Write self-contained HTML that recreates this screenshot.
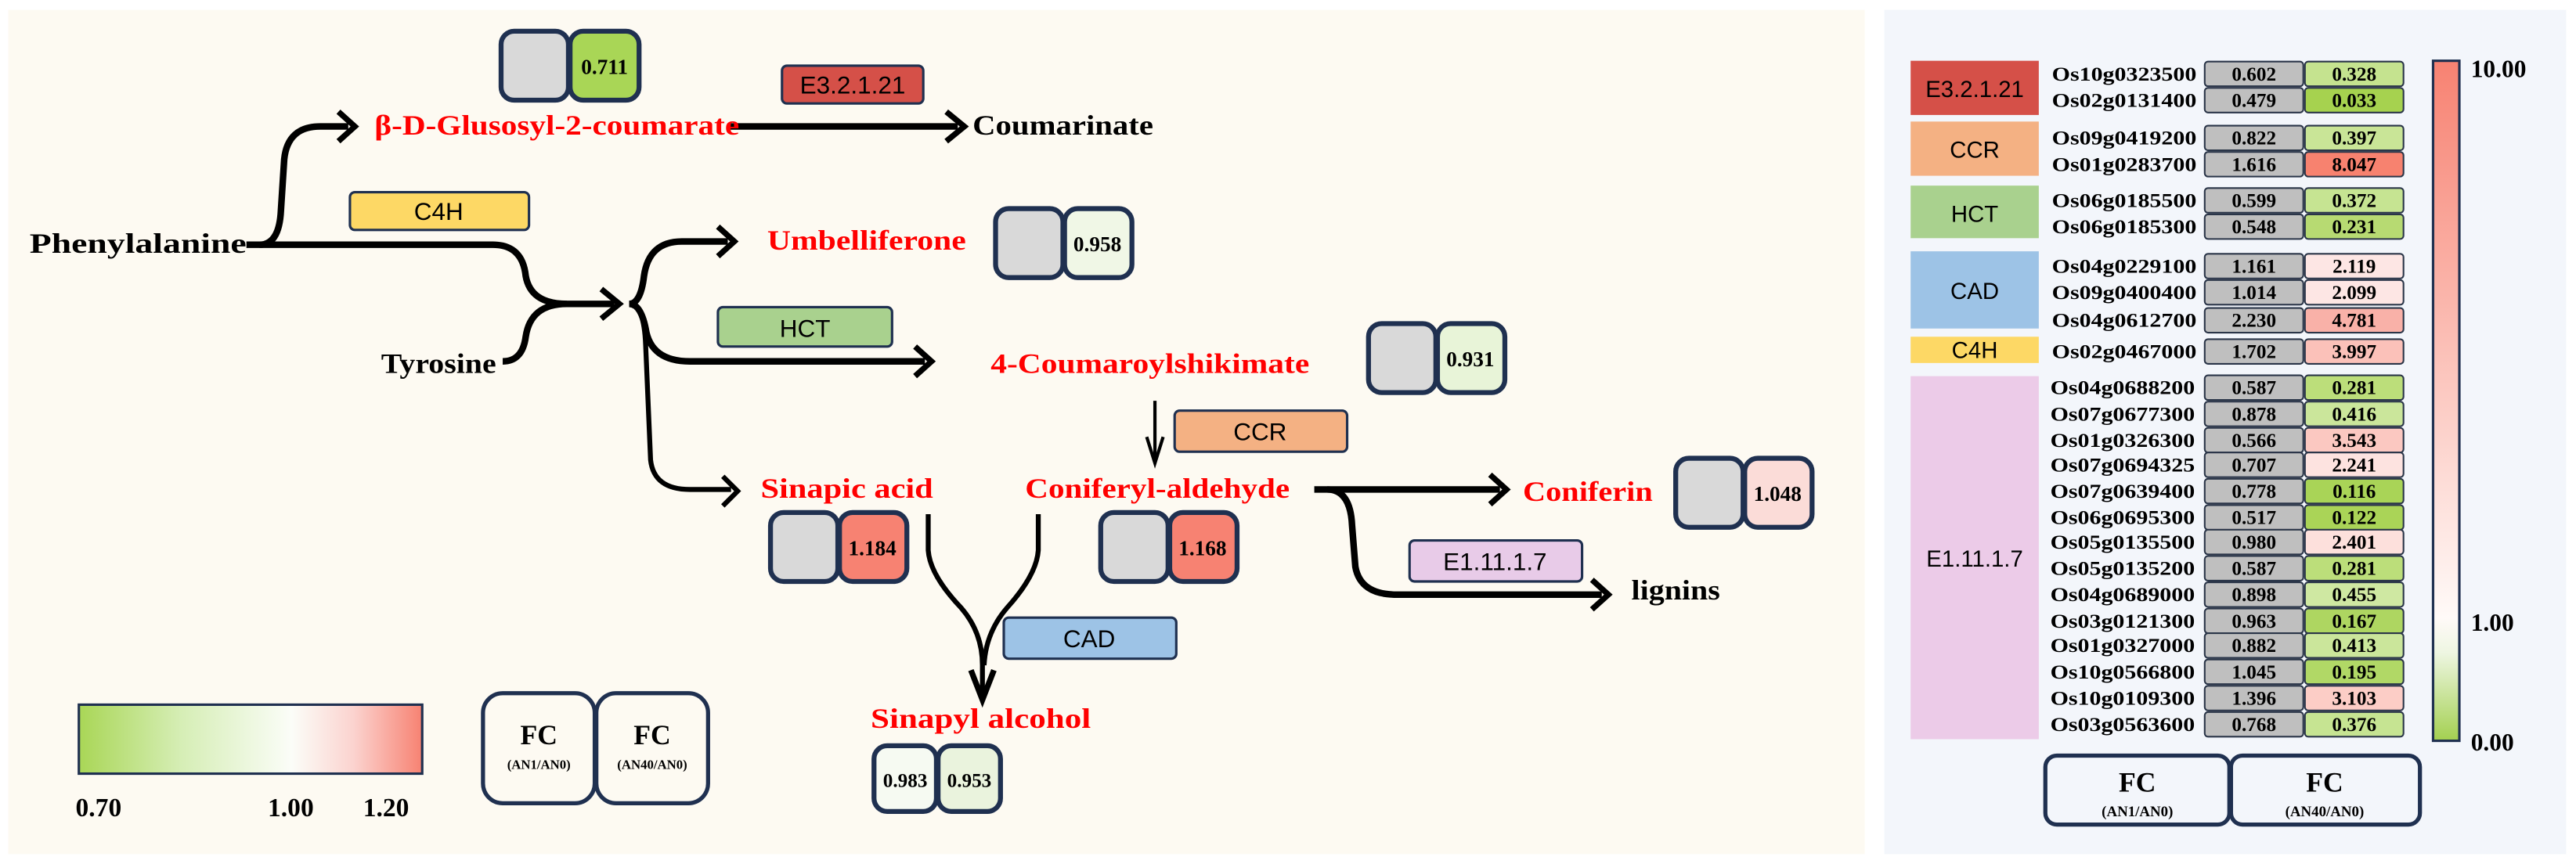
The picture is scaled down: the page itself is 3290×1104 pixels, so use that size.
<!DOCTYPE html>
<html><head><meta charset="utf-8"><style>
html,body{margin:0;padding:0;background:#fff;}
svg{display:block;}
text{font-family:"Liberation Serif",serif;font-weight:bold;}
.s{font-family:"Liberation Sans",sans-serif;font-weight:normal;}
</style></head><body>
<svg width="3290" height="1104" viewBox="0 0 1568 526" preserveAspectRatio="none" xmlns="http://www.w3.org/2000/svg">
<defs>
<linearGradient id="lg" x1="0" y1="0" x2="1" y2="0">
<stop offset="0" stop-color="#a9d656"/><stop offset="0.3" stop-color="#d6eeb6"/><stop offset="0.62" stop-color="#fbfdf8"/><stop offset="0.8" stop-color="#fbd3cf"/><stop offset="1" stop-color="#f78272"/>
</linearGradient>
<linearGradient id="vg" x1="0" y1="0" x2="0" y2="1">
<stop offset="0" stop-color="#f78272"/><stop offset="0.82" stop-color="#fffaf8"/><stop offset="0.87" stop-color="#eef6e2"/><stop offset="1" stop-color="#a3d050"/>
</linearGradient>
</defs>
<rect x="0" y="0" width="1568" height="526" fill="#ffffff"/>
<rect x="5" y="6" width="1130" height="514" fill="#fdfaf2"/>
<rect x="1147" y="6" width="415" height="514" fill="#f3f6fb"/>

<g fill="none" stroke="#000" stroke-width="4" stroke-linecap="butt" stroke-linejoin="miter">
<path d="M150,149 H300 Q318,149 320,168 Q323,185 345,185 H374"/>
<polyline points="366,176 377,185 366,194" stroke-width="3.5"/>
<path d="M158,149 Q170,149 171,128 L173,97 Q175,77 195,77 H212"/>
<polyline points="206,68 216,77 206,86" stroke-width="3.5"/>
<path d="M306,220 Q318,220 320,205 Q323,185 345,185"/>
<path d="M383,185 Q390,185 392,168 Q395,147 415,147 H443"/>
<polyline points="437,138 447,147 437,156" stroke-width="3.5"/>
<path d="M383,185 Q390,185 393,200 Q396,220 420,220 H563"/>
<polyline points="557,211 567,220 557,229" stroke-width="3.5"/>
<path d="M383,185 Q392,185 393,210 L396,280 Q398,298 420,298 H445" stroke-width="3"/>
<polyline points="440,290 449,299 440,308" stroke-width="3"/>
<path d="M444,77 H583"/>
<polyline points="576,68 587,77 576,86" stroke-width="3.5"/>
<path d="M703,244 V280" stroke-width="2"/>
<polyline points="698,266 703,282 708,266" stroke-width="2"/>
<path d="M800,298 H913"/>
<polyline points="907,289 917,298 907,307" stroke-width="3.5"/>
<path d="M808,298 Q822,298 823,320 L825,345 Q828,362 850,362 H975"/>
<polyline points="969,353 979,362 969,371" stroke-width="3.5"/>
<path d="M565,313 V335 Q566,350 585,370 Q598,385 598,405 V422" stroke-width="3"/>
<path d="M632,313 V335 Q631,350 613,370 Q600,385 599,405" stroke-width="3"/>
<polyline points="591,408 598,426 605,408" stroke-width="3.5"/>
</g>

<text x="18" y="154" font-size="17" textLength="132" lengthAdjust="spacingAndGlyphs">Phenylalanine</text>
<text x="232" y="227" font-size="17" textLength="70" lengthAdjust="spacingAndGlyphs">Tyrosine</text>
<text x="228" y="82" font-size="17" fill="#ff0000" textLength="222" lengthAdjust="spacingAndGlyphs">β-D-Glusosyl-2-coumarate</text>
<text x="592" y="82" font-size="17" textLength="110" lengthAdjust="spacingAndGlyphs">Coumarinate</text>
<text x="467" y="152" font-size="17" fill="#ff0000" textLength="121" lengthAdjust="spacingAndGlyphs">Umbelliferone</text>
<text x="603" y="227" font-size="17" fill="#ff0000" textLength="194" lengthAdjust="spacingAndGlyphs">4-Coumaroylshikimate</text>
<text x="463" y="303" font-size="17" fill="#ff0000" textLength="105" lengthAdjust="spacingAndGlyphs">Sinapic  acid</text>
<text x="624" y="303" font-size="17" fill="#ff0000" textLength="161" lengthAdjust="spacingAndGlyphs">Coniferyl-aldehyde</text>
<text x="927" y="305" font-size="17" fill="#ff0000" textLength="79" lengthAdjust="spacingAndGlyphs">Coniferin</text>
<text x="993" y="365" font-size="17" textLength="54" lengthAdjust="spacingAndGlyphs">lignins</text>
<text x="530" y="443" font-size="17" fill="#ff0000" textLength="134" lengthAdjust="spacingAndGlyphs">Sinapyl  alcohol</text>

<g stroke="#1f3050" stroke-width="1.5">
<rect x="476" y="40" width="86" height="23" rx="3" fill="#d55048"/>
<rect x="213" y="117" width="109" height="23" rx="3" fill="#fdd865"/>
<rect x="437" y="187" width="106" height="24" rx="3" fill="#a9d18e"/>
<rect x="715" y="250" width="105" height="25" rx="3" fill="#f4b183"/>
<rect x="611" y="376" width="105" height="25" rx="3" fill="#9dc3e6"/>
<rect x="858" y="329" width="105" height="25" rx="3" fill="#e8cbe8"/>
</g>
<g text-anchor="middle">
<text class="s" x="519" y="57" font-size="15">E3.2.1.21</text>
<text class="s" x="267" y="134" font-size="15">C4H</text>
<text class="s" x="490" y="205" font-size="15">HCT</text>
<text class="s" x="767" y="268" font-size="15">CCR</text>
<text class="s" x="663" y="394" font-size="15">CAD</text>
<text class="s" x="910" y="347" font-size="15">E1.11.1.7</text>
</g>

<g stroke="#1f3050" stroke-width="3">
<rect x="305" y="19" width="41" height="42" rx="8" fill="#d9d9d9"/><rect x="347" y="19" width="42" height="42" rx="8" fill="#a9d656"/>
<rect x="606" y="127" width="41" height="42" rx="8" fill="#d9d9d9"/><rect x="648" y="127" width="41" height="42" rx="8" fill="#f0f7e6"/>
<rect x="833" y="197" width="41" height="42" rx="8" fill="#d9d9d9"/><rect x="875" y="197" width="41" height="42" rx="8" fill="#e8f4d8"/>
<rect x="469" y="312" width="41" height="42" rx="8" fill="#d9d9d9"/><rect x="511" y="312" width="41" height="42" rx="8" fill="#f78272"/>
<rect x="670" y="312" width="41" height="42" rx="8" fill="#d9d9d9"/><rect x="712" y="312" width="41" height="42" rx="8" fill="#f78272"/>
<rect x="1020" y="279" width="41" height="42" rx="8" fill="#d9d9d9"/><rect x="1062" y="279" width="41" height="42" rx="8" fill="#fbdcd8"/>
<rect x="532" y="454" width="38" height="40" rx="8" fill="#f6faf2"/><rect x="571" y="454" width="38" height="40" rx="8" fill="#eaf3dd"/>
</g>
<g font-size="13" text-anchor="middle">
<text x="368" y="45">0.711</text>
<text x="668" y="153">0.958</text>
<text x="895" y="223">0.931</text>
<text x="531" y="338">1.184</text>
<text x="732" y="338">1.168</text>
<text x="1082" y="305">1.048</text>
<text x="551" y="479" font-size="12">0.983</text>
<text x="590" y="479" font-size="12">0.953</text>
</g>

<rect x="48" y="429" width="209" height="42" fill="url(#lg)" stroke="#1f3050" stroke-width="1.5"/>
<text x="46" y="497" font-size="16">0.70</text>
<text x="163" y="497" font-size="16">1.00</text>
<text x="221" y="497" font-size="16">1.20</text>
<g stroke="#1f3050" stroke-width="2.5" fill="#fdfaf2">
<rect x="294" y="422" width="68" height="67" rx="12"/>
<rect x="363" y="422" width="68" height="67" rx="12"/>
</g>
<text x="328" y="453" font-size="17" text-anchor="middle">FC</text>
<text x="397" y="453" font-size="17" text-anchor="middle">FC</text>
<text x="328" y="468" font-size="8" text-anchor="middle">(AN1/AN0)</text>
<text x="397" y="468" font-size="8" text-anchor="middle">(AN40/AN0)</text>

<rect x="1163" y="37" width="78" height="33" fill="#d55048"/>
<rect x="1163" y="74" width="78" height="33" fill="#f4b183"/>
<rect x="1163" y="113" width="78" height="32" fill="#a9d18e"/>
<rect x="1163" y="153" width="78" height="47" fill="#9dc3e6"/>
<rect x="1163" y="205" width="78" height="16" fill="#fdd865"/>
<rect x="1163" y="229" width="78" height="221" fill="#eccbe8"/>
<g text-anchor="middle">
<text class="s" x="1202" y="59" font-size="14">E3.2.1.21</text>
<text class="s" x="1202" y="96" font-size="14">CCR</text>
<text class="s" x="1202" y="135" font-size="14">HCT</text>
<text class="s" x="1202" y="182" font-size="14">CAD</text>
<text class="s" x="1202" y="218" font-size="14">C4H</text>
<text class="s" x="1202" y="345" font-size="14">E1.11.1.7</text>
</g>

<g stroke="#2a3548" stroke-width="1">
<rect x="1342" y="37.5" width="60" height="15" rx="2" fill="#bfbfbf"/><rect x="1403" y="37.5" width="60" height="15" rx="2" fill="#c5e38f"/>
<rect x="1342" y="53.5" width="60" height="15" rx="2" fill="#bfbfbf"/><rect x="1403" y="53.5" width="60" height="15" rx="2" fill="#a6d24f"/>
<rect x="1342" y="76.5" width="60" height="15" rx="2" fill="#bfbfbf"/><rect x="1403" y="76.5" width="60" height="15" rx="2" fill="#c9e597"/>
<rect x="1342" y="92.5" width="60" height="15" rx="2" fill="#bfbfbf"/><rect x="1403" y="92.5" width="60" height="15" rx="2" fill="#f7826f"/>
<rect x="1342" y="114.5" width="60" height="15" rx="2" fill="#bfbfbf"/><rect x="1403" y="114.5" width="60" height="15" rx="2" fill="#c6e492"/>
<rect x="1342" y="130.5" width="60" height="15" rx="2" fill="#bfbfbf"/><rect x="1403" y="130.5" width="60" height="15" rx="2" fill="#b7da72"/>
<rect x="1342" y="154.5" width="60" height="15" rx="2" fill="#bfbfbf"/><rect x="1403" y="154.5" width="60" height="15" rx="2" fill="#fde6e4"/>
<rect x="1342" y="170.5" width="60" height="15" rx="2" fill="#bfbfbf"/><rect x="1403" y="170.5" width="60" height="15" rx="2" fill="#fde6e4"/>
<rect x="1342" y="187.5" width="60" height="15" rx="2" fill="#bfbfbf"/><rect x="1403" y="187.5" width="60" height="15" rx="2" fill="#f9b1a8"/>
<rect x="1342" y="206.5" width="60" height="15" rx="2" fill="#bfbfbf"/><rect x="1403" y="206.5" width="60" height="15" rx="2" fill="#fbc1b9"/>
<rect x="1342" y="228.5" width="60" height="15" rx="2" fill="#bfbfbf"/><rect x="1403" y="228.5" width="60" height="15" rx="2" fill="#bcde7a"/>
<rect x="1342" y="244.5" width="60" height="15" rx="2" fill="#bfbfbf"/><rect x="1403" y="244.5" width="60" height="15" rx="2" fill="#cbe69b"/>
<rect x="1342" y="260.5" width="60" height="15" rx="2" fill="#bfbfbf"/><rect x="1403" y="260.5" width="60" height="15" rx="2" fill="#fbc8c1"/>
<rect x="1342" y="275.5" width="60" height="15" rx="2" fill="#bfbfbf"/><rect x="1403" y="275.5" width="60" height="15" rx="2" fill="#fde3e0"/>
<rect x="1342" y="291.5" width="60" height="15" rx="2" fill="#bfbfbf"/><rect x="1403" y="291.5" width="60" height="15" rx="2" fill="#a9d457"/>
<rect x="1342" y="307.5" width="60" height="15" rx="2" fill="#bfbfbf"/><rect x="1403" y="307.5" width="60" height="15" rx="2" fill="#aad457"/>
<rect x="1342" y="322.5" width="60" height="15" rx="2" fill="#bfbfbf"/><rect x="1403" y="322.5" width="60" height="15" rx="2" fill="#fde0dc"/>
<rect x="1342" y="338.5" width="60" height="15" rx="2" fill="#bfbfbf"/><rect x="1403" y="338.5" width="60" height="15" rx="2" fill="#bcde7a"/>
<rect x="1342" y="354.5" width="60" height="15" rx="2" fill="#bfbfbf"/><rect x="1403" y="354.5" width="60" height="15" rx="2" fill="#cfe8a2"/>
<rect x="1342" y="370.5" width="60" height="15" rx="2" fill="#bfbfbf"/><rect x="1403" y="370.5" width="60" height="15" rx="2" fill="#aed661"/>
<rect x="1342" y="385.5" width="60" height="15" rx="2" fill="#bfbfbf"/><rect x="1403" y="385.5" width="60" height="15" rx="2" fill="#cbe69b"/>
<rect x="1342" y="401.5" width="60" height="15" rx="2" fill="#bfbfbf"/><rect x="1403" y="401.5" width="60" height="15" rx="2" fill="#b1d866"/>
<rect x="1342" y="417.5" width="60" height="15" rx="2" fill="#bfbfbf"/><rect x="1403" y="417.5" width="60" height="15" rx="2" fill="#fccdc6"/>
<rect x="1342" y="433.5" width="60" height="15" rx="2" fill="#bfbfbf"/><rect x="1403" y="433.5" width="60" height="15" rx="2" fill="#c6e492"/>
</g>

<g font-size="12">
<g text-anchor="start">
<text x="1249" y="49" textLength="88" lengthAdjust="spacingAndGlyphs">Os10g0323500</text>
<text x="1249" y="65" textLength="88" lengthAdjust="spacingAndGlyphs">Os02g0131400</text>
<text x="1249" y="88" textLength="88" lengthAdjust="spacingAndGlyphs">Os09g0419200</text>
<text x="1249" y="104" textLength="88" lengthAdjust="spacingAndGlyphs">Os01g0283700</text>
<text x="1249" y="126" textLength="88" lengthAdjust="spacingAndGlyphs">Os06g0185500</text>
<text x="1249" y="142" textLength="88" lengthAdjust="spacingAndGlyphs">Os06g0185300</text>
<text x="1249" y="166" textLength="88" lengthAdjust="spacingAndGlyphs">Os04g0229100</text>
<text x="1249" y="182" textLength="88" lengthAdjust="spacingAndGlyphs">Os09g0400400</text>
<text x="1249" y="199" textLength="88" lengthAdjust="spacingAndGlyphs">Os04g0612700</text>
<text x="1249" y="218" textLength="88" lengthAdjust="spacingAndGlyphs">Os02g0467000</text>
<text x="1248" y="240" textLength="88" lengthAdjust="spacingAndGlyphs">Os04g0688200</text>
<text x="1248" y="256" textLength="88" lengthAdjust="spacingAndGlyphs">Os07g0677300</text>
<text x="1248" y="272" textLength="88" lengthAdjust="spacingAndGlyphs">Os01g0326300</text>
<text x="1248" y="287" textLength="88" lengthAdjust="spacingAndGlyphs">Os07g0694325</text>
<text x="1248" y="303" textLength="88" lengthAdjust="spacingAndGlyphs">Os07g0639400</text>
<text x="1248" y="319" textLength="88" lengthAdjust="spacingAndGlyphs">Os06g0695300</text>
<text x="1248" y="334" textLength="88" lengthAdjust="spacingAndGlyphs">Os05g0135500</text>
<text x="1248" y="350" textLength="88" lengthAdjust="spacingAndGlyphs">Os05g0135200</text>
<text x="1248" y="366" textLength="88" lengthAdjust="spacingAndGlyphs">Os04g0689000</text>
<text x="1248" y="382" textLength="88" lengthAdjust="spacingAndGlyphs">Os03g0121300</text>
<text x="1248" y="397" textLength="88" lengthAdjust="spacingAndGlyphs">Os01g0327000</text>
<text x="1248" y="413" textLength="88" lengthAdjust="spacingAndGlyphs">Os10g0566800</text>
<text x="1248" y="429" textLength="88" lengthAdjust="spacingAndGlyphs">Os10g0109300</text>
<text x="1248" y="445" textLength="88" lengthAdjust="spacingAndGlyphs">Os03g0563600</text>
</g>
<g text-anchor="middle">
<text x="1372" y="49">0.602</text><text x="1433" y="49">0.328</text>
<text x="1372" y="65">0.479</text><text x="1433" y="65">0.033</text>
<text x="1372" y="88">0.822</text><text x="1433" y="88">0.397</text>
<text x="1372" y="104">1.616</text><text x="1433" y="104">8.047</text>
<text x="1372" y="126">0.599</text><text x="1433" y="126">0.372</text>
<text x="1372" y="142">0.548</text><text x="1433" y="142">0.231</text>
<text x="1372" y="166">1.161</text><text x="1433" y="166">2.119</text>
<text x="1372" y="182">1.014</text><text x="1433" y="182">2.099</text>
<text x="1372" y="199">2.230</text><text x="1433" y="199">4.781</text>
<text x="1372" y="218">1.702</text><text x="1433" y="218">3.997</text>
<text x="1372" y="240">0.587</text><text x="1433" y="240">0.281</text>
<text x="1372" y="256">0.878</text><text x="1433" y="256">0.416</text>
<text x="1372" y="272">0.566</text><text x="1433" y="272">3.543</text>
<text x="1372" y="287">0.707</text><text x="1433" y="287">2.241</text>
<text x="1372" y="303">0.778</text><text x="1433" y="303">0.116</text>
<text x="1372" y="319">0.517</text><text x="1433" y="319">0.122</text>
<text x="1372" y="334">0.980</text><text x="1433" y="334">2.401</text>
<text x="1372" y="350">0.587</text><text x="1433" y="350">0.281</text>
<text x="1372" y="366">0.898</text><text x="1433" y="366">0.455</text>
<text x="1372" y="382">0.963</text><text x="1433" y="382">0.167</text>
<text x="1372" y="397">0.882</text><text x="1433" y="397">0.413</text>
<text x="1372" y="413">1.045</text><text x="1433" y="413">0.195</text>
<text x="1372" y="429">1.396</text><text x="1433" y="429">3.103</text>
<text x="1372" y="445">0.768</text><text x="1433" y="445">0.376</text>
</g>
</g>

<rect x="1481" y="37" width="16" height="414" fill="url(#vg)" stroke="#1f3050" stroke-width="1.5"/>
<text x="1504" y="47" font-size="15">10.00</text>
<text x="1504" y="384" font-size="15">1.00</text>
<text x="1504" y="457" font-size="15">0.00</text>

<g stroke="#1f3050" stroke-width="2.5" fill="#f3f6fb">
<rect x="1245" y="460" width="112" height="42" rx="7"/>
<rect x="1358" y="460" width="115" height="42" rx="7"/>
</g>
<text x="1301" y="482" font-size="17" text-anchor="middle">FC</text>
<text x="1415" y="482" font-size="17" text-anchor="middle">FC</text>
<text x="1301" y="497" font-size="9" text-anchor="middle">(AN1/AN0)</text>
<text x="1415" y="497" font-size="9" text-anchor="middle">(AN40/AN0)</text>
</svg>
</body></html>
